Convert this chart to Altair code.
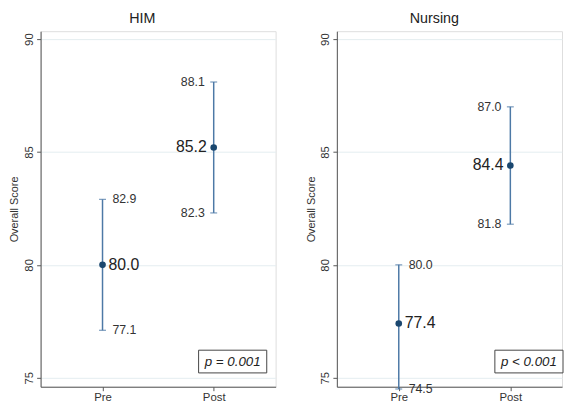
import altair as alt
import pandas as pd

# ---- data ----
panels = ["HIM", "Nursing"]
time_order = ["Pre", "Post"]
groups = ["HIM", "HIM", "Nursing", "Nursing"]
times = ["Pre", "Post", "Pre", "Post"]
means = [80.0, 85.2, 77.4, 84.4]
lows = [77.1, 82.3, 74.5, 81.8]
highs = [82.9, 88.1, 80.0, 87.0]
p_texts = ["p = 0.001", "p < 0.001"]
y_ticks = [75, 80, 85, 90]

FONT = "Liberation Sans"
BAR_COLOR = "#4d79a6"
PT_COLOR = "#1a476f"
TXT = "#333333"

df = pd.DataFrame({"group": groups, "time": times, "mean": means, "lo": lows, "hi": highs})
df["mean_lbl"] = df["mean"].map("{:.1f}".format)
ci = pd.concat([
    pd.DataFrame({"group": df["group"], "time": df["time"], "v": df["lo"]}),
    pd.DataFrame({"group": df["group"], "time": df["time"], "v": df["hi"]}),
])
ci["lbl"] = ci["v"].map("{:.1f}".format)
pdf = pd.DataFrame({"group": panels, "p": p_texts})

H = 360
yscale = alt.Scale(domain=[74.6, 90.35], nice=False, zero=False)
xaxis = alt.Axis(title=None, labelAngle=0, grid=False, ticks=True, tickSize=4,
                 labelFontSize=11.5, labelFont=FONT, labelColor=TXT, domainColor="#555555",
                 tickColor="#555555", labelPadding=1)
yaxis = alt.Axis(title="Overall Score", values=y_ticks, grid=True, gridColor="#e4edf0",
                 tickSize=4, labelAngle=-90, labelAlign="center", labelBaseline="bottom",
                 labelFontSize=11.5, labelFont=FONT, labelColor=TXT, labelPadding=2,
                 titleFont=FONT, titleFontSize=11, titleFontWeight="normal", titleColor=TXT,
                 titlePadding=4, domainColor="#555555", tickColor="#555555")


def Y(field):
    return alt.Y(f"{field}:Q", scale=yscale, axis=yaxis)


def panel(name, W, pad, align):
    xscale = alt.Scale(type="point", domain=time_order, padding=pad, align=align)

    def X():
        return alt.X("time:N", scale=xscale, sort=time_order, axis=xaxis)

    d = df[df["group"] == name]
    c = ci[ci["group"] == name]
    p = pdf[pdf["group"] == name]
    base = alt.Chart(d)
    rule = base.mark_rule(color=BAR_COLOR, strokeWidth=1.5).encode(x=X(), y=Y("lo"), y2="hi:Q")
    cap_lo = base.mark_tick(color=BAR_COLOR, size=7, thickness=1.3).encode(x=X(), y=Y("lo"))
    cap_hi = base.mark_tick(color=BAR_COLOR, size=7, thickness=1.3).encode(x=X(), y=Y("hi"))
    pt = base.mark_circle(color=PT_COLOR, size=45, opacity=1).encode(x=X(), y=Y("mean"))
    cb = alt.Chart(c)
    ci_pre = cb.transform_filter(alt.datum.time == "Pre").mark_text(
        align="left", baseline="middle", dx=10, font=FONT, fontSize=12.5, color=TXT
    ).encode(x=X(), y=Y("v"), text="lbl:N")
    ci_post = cb.transform_filter(alt.datum.time == "Post").mark_text(
        align="right", baseline="middle", dx=-9, font=FONT, fontSize=12.5, color=TXT
    ).encode(x=X(), y=Y("v"), text="lbl:N")
    m_pre = base.transform_filter(alt.datum.time == "Pre").mark_text(
        align="left", baseline="middle", dx=6, font=FONT, fontSize=16, color="#222222"
    ).encode(x=X(), y=Y("mean"), text="mean_lbl:N")
    m_post = base.transform_filter(alt.datum.time == "Post").mark_text(
        align="right", baseline="middle", dx=-7, font=FONT, fontSize=16, color="#222222"
    ).encode(x=X(), y=Y("mean"), text="mean_lbl:N")
    pb = alt.Chart(p)
    box = pb.mark_rect(fill="white", stroke="#444444", strokeWidth=1).encode(
        x=alt.value(160), x2=alt.value(229), y=alt.value(323), y2=alt.value(346))
    ptxt = pb.mark_text(font=FONT, fontSize=13.5, fontStyle="italic", color="#222222",
                        align="center", baseline="middle").encode(
        x=alt.value(194.5), y=alt.value(335), text="p:N")
    return alt.layer(rule, cap_lo, cap_hi, pt, ci_pre, ci_post, m_pre, m_post, box, ptxt).properties(
        width=W, height=H,
        title=alt.TitleParams(name, font=FONT, fontSize=14.5, fontWeight="normal",
                              color="#222222", frame="bounds", anchor="middle", offset=5),
    )


chart = alt.hconcat(
    panel("HIM", 238, 0.557, 0.5),
    panel("Nursing", 228, 0.509, 0.545),
    spacing=28,
).properties(
    padding={"left": 0, "top": 0, "right": 0, "bottom": 0}
).configure_view(stroke=None).configure(background="white")

chart.save("out.html", embed_options={"renderer": "svg", "actions": False})
